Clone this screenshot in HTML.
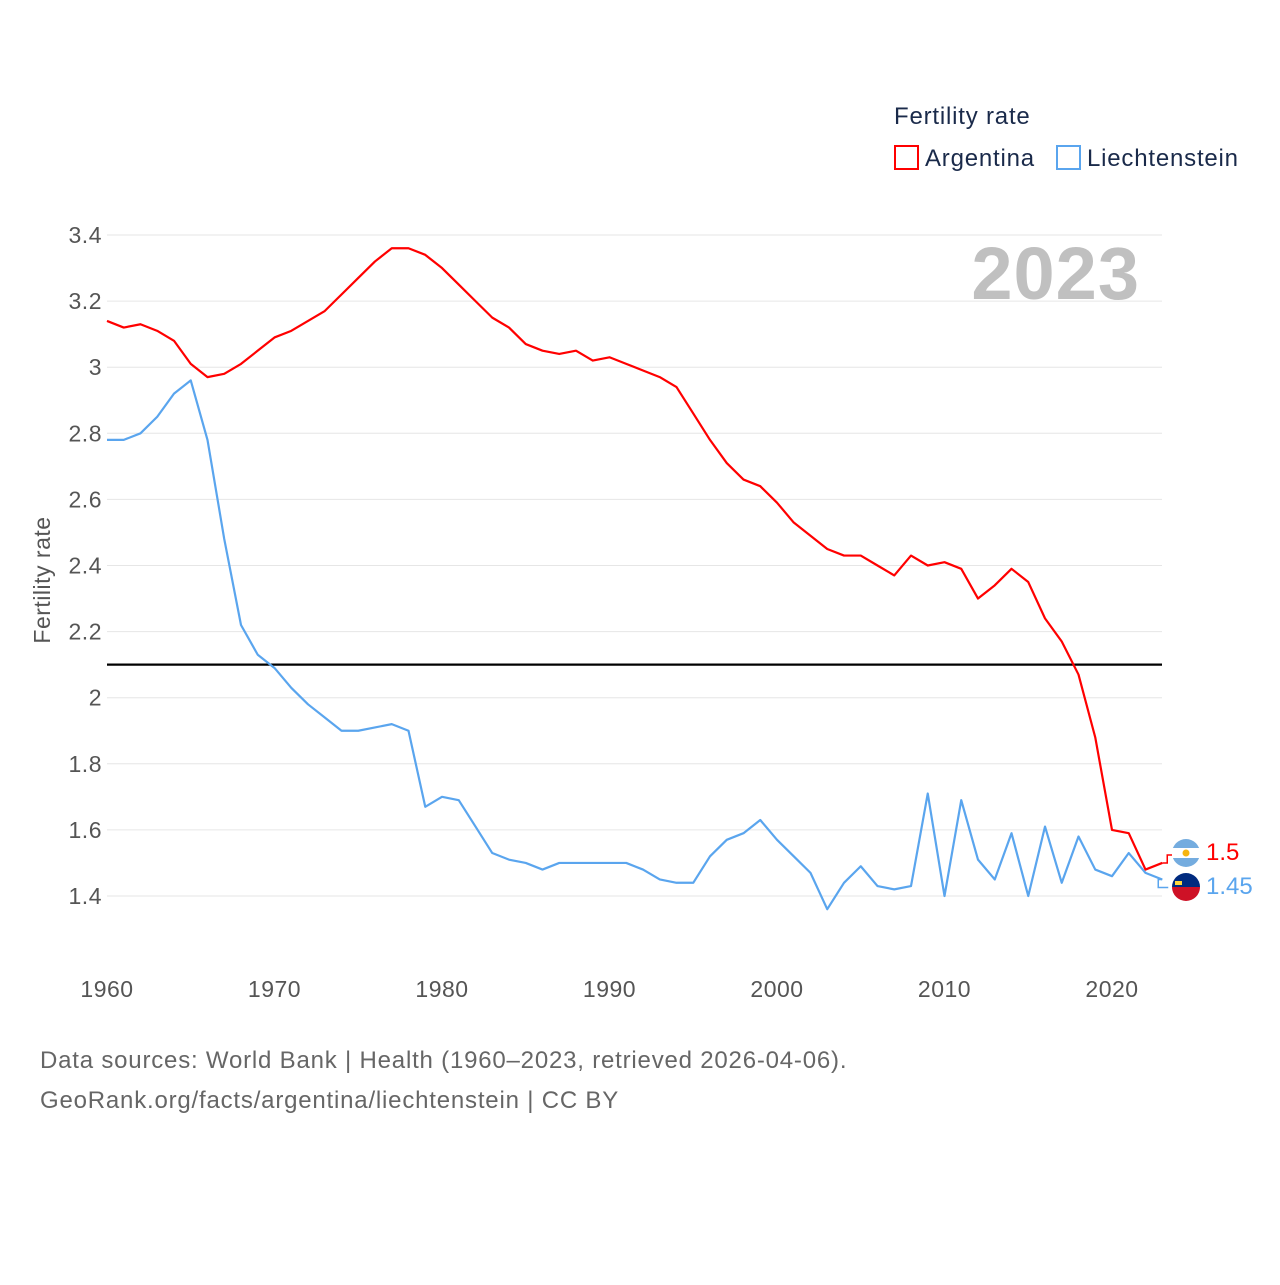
<!DOCTYPE html>
<html><head><meta charset="utf-8">
<style>
body{margin:0;background:#fff;width:1280px;height:1280px;overflow:hidden;font-family:"Liberation Sans",sans-serif}
</style></head>
<body>
<svg id="chart" width="1280" height="1280" xmlns="http://www.w3.org/2000/svg">
<text x="894" y="124" font-size="24" letter-spacing="0.8" fill="#1a2a4a">Fertility rate</text>
<g>
<rect x="895" y="146" width="23" height="23" fill="none" stroke="#f00" stroke-width="2"/>
<text x="925" y="166" font-size="24" letter-spacing="0.8" fill="#1a2a4a">Argentina</text></g>
<g>
<rect x="1057" y="146" width="23" height="23" fill="none" stroke="#5aa5ee" stroke-width="2"/>
<text x="1087" y="166" font-size="24" letter-spacing="0.8" fill="#1a2a4a">Liechtenstein</text></g>
<text x="1140" y="299" font-size="74" font-weight="bold" letter-spacing="1" fill="#c0c0c0" text-anchor="end">2023</text>
<text transform="translate(50,580) rotate(-90)" font-size="23" letter-spacing="0.5" fill="#555" text-anchor="middle">Fertility rate</text>
<g id="grid"></g><g id="ylabels"></g><g id="xlabels"></g><g id="lines"></g>
<text x="40" y="1068" font-size="24" letter-spacing="0.8" fill="#666">Data sources: World Bank | Health (1960–2023, retrieved 2026-04-06).</text>
<text x="40" y="1108" font-size="24" letter-spacing="0.8" fill="#666">GeoRank.org/facts/argentina/liechtenstein | CC BY</text>
</svg>
<script>
const years=[];for(let y=1960;y<=2023;y++)years.push(y);
const argentina=[3.14,3.12,3.13,3.11,3.08,3.01,2.97,2.98,3.01,3.05,3.09,3.11,3.14,3.17,3.22,3.27,3.32,3.36,3.36,3.34,3.30,3.25,3.20,3.15,3.12,3.07,3.05,3.04,3.05,3.02,3.03,3.01,2.99,2.97,2.94,2.86,2.78,2.71,2.66,2.64,2.59,2.53,2.49,2.45,2.43,2.43,2.40,2.37,2.43,2.40,2.41,2.39,2.30,2.34,2.39,2.35,2.24,2.17,2.07,1.88,1.60,1.59,1.48,1.50];
const liechtenstein=[2.78,2.78,2.80,2.85,2.92,2.96,2.78,2.48,2.22,2.13,2.09,2.03,1.98,1.94,1.90,1.90,1.91,1.92,1.90,1.67,1.70,1.69,1.61,1.53,1.51,1.50,1.48,1.50,1.50,1.50,1.50,1.50,1.48,1.45,1.44,1.44,1.52,1.57,1.59,1.63,1.57,1.52,1.47,1.36,1.44,1.49,1.43,1.42,1.43,1.71,1.40,1.69,1.51,1.45,1.59,1.40,1.61,1.44,1.58,1.48,1.46,1.53,1.47,1.45];
const yTicks=[1.4,1.6,1.8,2,2.2,2.4,2.6,2.8,3,3.2,3.4];
const xTicks=[1960,1970,1980,1990,2000,2010,2020];
const replacement=2.1;
const NS="http://www.w3.org/2000/svg";
const X=y=>107+(y-1960)*16.75;
const Y=v=>896-(v-1.4)*330.5;
function mk(t,a,p){const e=document.createElementNS(NS,t);for(const k in a)e.setAttribute(k,a[k]);p.appendChild(e);return e;}
const grid=document.getElementById('grid'),yl=document.getElementById('ylabels'),xl=document.getElementById('xlabels'),ln=document.getElementById('lines');
yTicks.forEach(v=>{
 const g=mk('line',{x1:107,x2:1162,y1:Y(v),y2:Y(v),stroke:'#e6e6e6','stroke-width':1},grid);
 
 
 const t=mk('text',{x:102,y:Y(v)+8,'font-size':23,'letter-spacing':0.5,fill:'#555','text-anchor':'end'},yl);
 t.textContent=String(v);
 
 
});
xTicks.forEach(v=>{
 const t=mk('text',{x:X(v),y:997,'font-size':23,'letter-spacing':0.5,fill:'#555','text-anchor':'middle'},xl);
 t.textContent=String(v);
 
 
});
const r=mk('line',{x1:107,x2:1162,y1:Y(replacement),y2:Y(replacement),stroke:'#000','stroke-width':2.2},ln);


function series(d,c,name){
 const p=mk('polyline',{points:d.map((v,i)=>X(years[i])+','+Y(v)).join(' '),fill:'none',stroke:c,'stroke-width':2.2,'stroke-linejoin':'round'},ln);
 
 
}
series(liechtenstein,'#5aa5ee','liechtenstein-line');
series(argentina,'#f00','argentina-line');
const ay=Y(argentina[argentina.length-1]),ly=Y(liechtenstein[liechtenstein.length-1]);
const ex=X(2023);
const fa=mk('g',{},ln);


mk('path',{d:`M${ex} ${ay} h5 v-8 h6`,stroke:'#f00',fill:'none','stroke-width':1.5},fa);
mk('circle',{cx:1186,cy:853,r:14,fill:'#74acdf'},fa);
mk('rect',{x:1172,y:848,width:28,height:10,fill:'#fff'},fa);
mk('circle',{cx:1186,cy:853,r:3.5,fill:'#f6b40e'},fa);
const fl=mk('g',{},ln);


mk('path',{d:`M${ex} ${ly} h-4 v8 h10`,stroke:'#5aa5ee',fill:'none','stroke-width':1.5},fl);
mk('path',{d:'M1172 887 a14 14 0 0 1 28 0 z',fill:'#002b7f'},fl);
mk('path',{d:'M1172 887 a14 14 0 0 0 28 0 z',fill:'#ce1126'},fl);
mk('rect',{x:1175,y:881,width:7,height:4,fill:'#ffd83d'},fl);
const ta=mk('text',{x:1206,y:860,'font-size':24,fill:'#f00'},ln);
ta.textContent=argentina[argentina.length-1].toFixed(1);


const tl=mk('text',{x:1206,y:894,'font-size':24,fill:'#5aa5ee'},ln);
tl.textContent=String(liechtenstein[liechtenstein.length-1]);


</script>
</body></html>
